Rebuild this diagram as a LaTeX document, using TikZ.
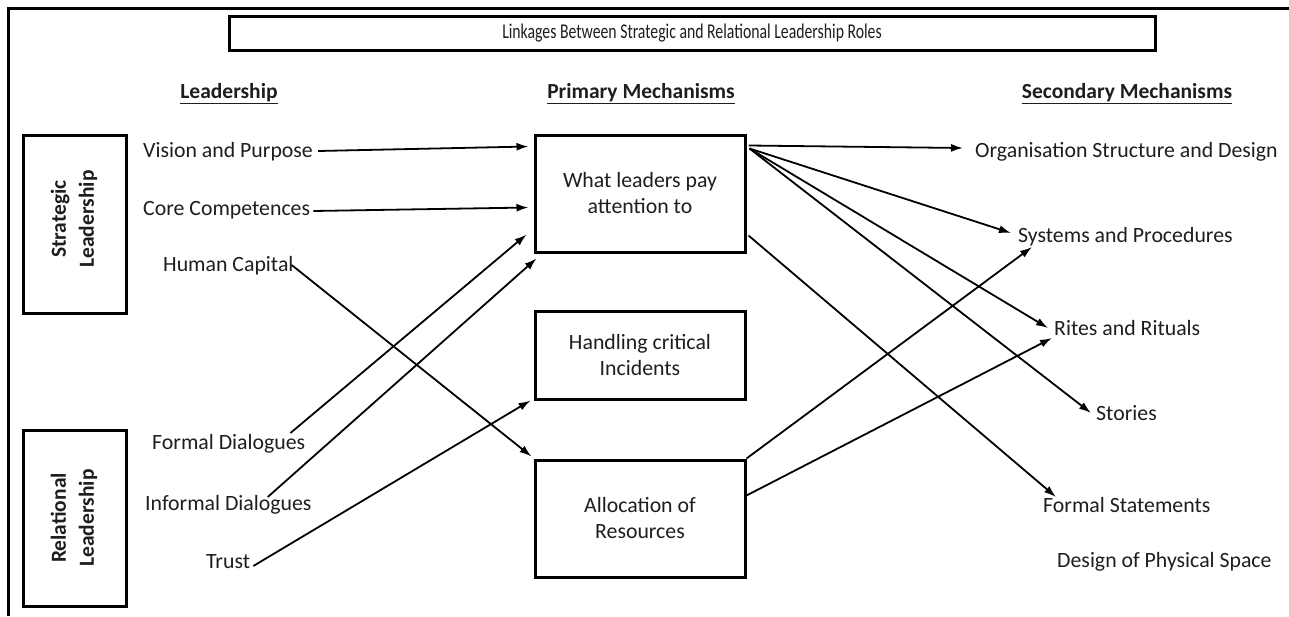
\documentclass[tikz,border=0pt]{standalone}
\usepackage{fontspec}
\setmainfont{Carlito}
\usetikzlibrary{arrows.meta,calc}
\definecolor{ink}{HTML}{1E1E1E}
\begin{document}
\begin{tikzpicture}[x=1pt,y=-1pt,
  lbl/.style={anchor=west,inner sep=0pt,text=ink,font=\fontsize{21.8}{24}\selectfont},
  hdr/.style={inner sep=0pt,text=ink,font=\bfseries\fontsize{21.5}{24}\selectfont},
  mech/.style={draw=black,line width=3pt,rectangle,inner sep=0pt,minimum width=210pt,
    align=center,text=ink,font=\fontsize{21.8}{26}\selectfont},
  rolebox/.style={draw=black,line width=3pt,rectangle,inner sep=0pt,minimum width=103pt},
  roletxt/.style={rotate=90,align=center,inner sep=0pt,text=ink,font=\bfseries\fontsize{21.5}{28}\selectfont},
  link/.style={line width=1.8pt,-{Latex[length=12pt,width=8pt]}}]
\useasboundingbox (0,0) rectangle (1289,616);
\fill[white] (0,0) rectangle (1289,616);

% outer frame (top and left edges)
\draw[line width=3pt] (1289,8) -- (8,8) -- (8,616);

% title
\node[draw=black,line width=3pt,minimum width=926pt,minimum height=34pt,inner sep=0pt,
  text=ink,font=\fontsize{21}{24}\selectfont] (title) at (692,33)
  {\scalebox{0.75}[1]{Linkages Between Strategic and Relational Leadership Roles}};

% column headers
\node[hdr] (h1) at (229,94) {\underline{Leadership}};
\node[hdr] (h2) at (641,94) {\underline{Primary Mechanisms}};
\node[hdr] (h3) at (1127,94) {\underline{Secondary Mechanisms}};

% leadership role boxes
\node[rolebox,minimum height=178pt] (sbox) at (74.5,224) {};
\node[roletxt] (stxt) at (74,219) {Strategic\\Leadership};
\node[rolebox,minimum height=176pt] (rbox) at (74.5,518) {};
\node[roletxt] (rtxt) at (74,518) {Relational\\Leadership};

% leadership items
\node[lbl] (vision) at (143,152) {Vision and Purpose};
\node[lbl] (core) at (143,210) {Core Competences};
\node[lbl] (human) at (163,266) {Human Capital};
\node[lbl] (formal) at (152,444) {Formal Dialogues};
\node[lbl] (informal) at (145,505) {Informal Dialogues};
\node[lbl] (trust) at (206,562) {Trust};

% primary mechanisms
\node[mech,minimum height=117pt] (what) at (640,193.5) {What leaders pay\\attention to};
\node[mech,minimum height=88pt] (handling) at (640,355) {Handling critical\\Incidents};
\node[mech,minimum height=117pt] (alloc) at (640,518.5) {Allocation of\\Resources};

% secondary mechanisms
\node[lbl] (org) at (975,152) {Organisation Structure and Design};
\node[lbl] (sys) at (1018,237) {Systems and Procedures};
\node[lbl] (rites) at (1054,328) {Rites and Rituals};
\node[lbl] (stories) at (1096,413) {Stories};
\node[lbl] (fstat) at (1043,505) {Formal Statements};
\node[lbl] (design) at (1057,562) {Design of Physical Space};

% anchor points on the primary boxes
\coordinate (wIn1) at ($(what.north west)+(-5,13)$);
\coordinate (wIn2) at ($(what.north west)+(-5,74)$);
\coordinate (wIn3) at ($(what.north west)+(-7,101)$);
\coordinate (wIn4) at ($(what.south west)+(3,5)$);
\coordinate (wFan) at ($(what.north east)+(3,15)$);
\coordinate (wOut) at ($(what.north east)+(2,12)$);
\coordinate (wLow) at ($(what.north east)+(2,102)$);
\coordinate (aIn) at ($(alloc.north west)+(-2,-2)$);
\coordinate (aTop) at ($(alloc.north east)+(0,0)$);
\coordinate (aMid) at ($(alloc.north east)+(0,37)$);
\coordinate (hIn) at ($(handling.south west)+(-3,0)$);

% leadership items to primary mechanisms
\draw[link] ($(vision.east)+(5,-1)$) -- (wIn1);
\draw[link] ($(core.east)+(3,1)$) -- (wIn2);
\draw[link] ($(human.east)+(-2,-1)$) -- (aIn);
\draw[link] ($(formal.east)+(-15,-11)$) -- (wIn3);
\draw[link] ($(informal.east)+(-44,-8)$) -- (wIn4);
\draw[link] ($(trust.east)+(3,4)$) -- (hIn);

% primary mechanisms to secondary mechanisms
\draw[link] (wOut) -- ($(org.west)+(-12,-4)$);
\draw[link] (wFan) -- ($(sys.west)+(-7,-4)$);
\draw[link] (wFan) -- ($(rites.west)+(-6,0)$);
\draw[link] (wFan) -- ($(stories.west)+(-5,0)$);
\draw[link] (wLow) -- ($(fstat.west)+(13,-8)$);
\draw[link] (aTop) -- ($(sys.west)+(14,10)$);
\draw[link] (aMid) -- ($(rites.west)+(-2,10)$);
\end{tikzpicture}
\end{document}
